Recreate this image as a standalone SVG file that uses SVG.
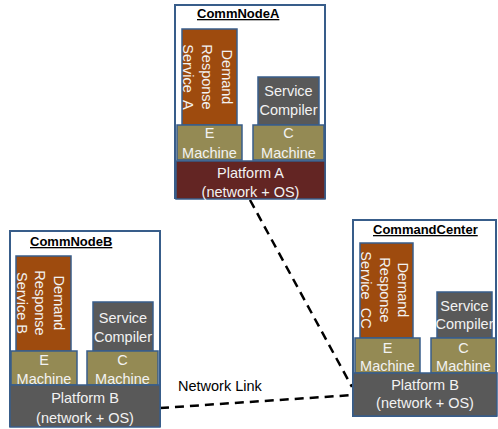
<svg xmlns="http://www.w3.org/2000/svg" width="498" height="429" viewBox="0 0 498 429">
<style>
.outer{fill:#fff;stroke:#385D8A;stroke-width:2}
.box{stroke:#385D8A;stroke-width:1.5}
.drs{fill:#9E4B0E}
.cmp{fill:#595959}
.mac{fill:#948A54}
.pa{fill:#632523}
.pb{fill:#595959}
text{font-family:"Liberation Sans",Arial,sans-serif;font-size:14.5px;fill:#F2F2F2;text-anchor:middle;white-space:pre}
.title{font-weight:bold;font-size:13px;fill:#000;text-decoration:underline;text-anchor:start}
.lbl{fill:#000;text-anchor:start;font-size:14.5px}
.link{stroke:#000;stroke-width:2.5;stroke-dasharray:9 6;fill:none}
</style>
<g id="connectors">
<line class="link" x1="250" y1="200" x2="352" y2="387"/>
<line class="link" x1="160" y1="408" x2="353" y2="395"/>
<text class="lbl" x="178" y="391">Network Link</text>
</g>
<g id="CommNodeA">
<rect class="outer" x="175" y="5" width="150" height="193"/>
<text class="title" x="197" y="18">CommNodeA</text>
<rect class="box drs" x="182" y="29" width="55" height="96"/>
<text transform="translate(227,77) rotate(90)" y="5">Demand</text>
<text transform="translate(207,77) rotate(90)" y="5">Response</text>
<text transform="translate(188,77) rotate(90)" y="5">Service  A</text>
<rect class="box cmp" x="258" y="77" width="61" height="48"/>
<text x="288.5" y="96">Service</text>
<text x="288.5" y="115">Compiler</text>
<rect class="box mac" x="177" y="125" width="65" height="35"/>
<text x="209.5" y="138">E</text>
<text x="209.5" y="158">Machine</text>
<rect class="box mac" x="253" y="125" width="71" height="35"/>
<text x="288.5" y="138">C</text>
<text x="288.5" y="158">Machine</text>
<rect class="box pa" x="176" y="161" width="149" height="38"/>
<text x="250.5" y="178">Platform A</text>
<text x="250.5" y="197">(network + OS)</text>
</g>
<g id="CommNodeB">
<rect class="outer" x="10" y="231" width="150" height="195"/>
<text class="title" x="30" y="246">CommNodeB</text>
<rect class="box drs" x="16" y="256" width="55" height="95"/>
<text transform="translate(59,303) rotate(90)" y="5">Demand</text>
<text transform="translate(40,303) rotate(90)" y="5">Response</text>
<text transform="translate(22,303) rotate(90)" y="5">Service B</text>
<rect class="box cmp" x="93" y="302" width="60" height="49"/>
<text x="123" y="323">Service</text>
<text x="123" y="342">Compiler</text>
<rect class="box mac" x="11" y="351" width="66" height="34"/>
<text x="44" y="365">E</text>
<text x="44" y="384">Machine</text>
<rect class="box mac" x="87" y="351" width="71" height="34"/>
<text x="122.5" y="365">C</text>
<text x="122.5" y="384">Machine</text>
<rect class="box pb" x="10" y="385" width="150" height="42"/>
<text x="85" y="403">Platform B</text>
<text x="85" y="423">(network + OS)</text>
</g>
<g id="CommandCenter">
<rect class="outer" x="353" y="220" width="143" height="196"/>
<text class="title" x="373" y="234">CommandCenter</text>
<rect class="box drs" x="360" y="243" width="53" height="95"/>
<text transform="translate(403,290) rotate(90)" y="5">Demand</text>
<text transform="translate(385,290) rotate(90)" y="5">Response</text>
<text transform="translate(366,290) rotate(90)" y="5">Service  CC</text>
<rect class="box cmp" x="437" y="292" width="55" height="46"/>
<text x="464.5" y="311">Service</text>
<text x="464.5" y="329">Compiler</text>
<rect class="box mac" x="355" y="338" width="65" height="35"/>
<text x="387.5" y="353">E</text>
<text x="387.5" y="371">Machine</text>
<rect class="box mac" x="431" y="338" width="65" height="35"/>
<text x="463.5" y="353">C</text>
<text x="463.5" y="371">Machine</text>
<rect class="box pb" x="353" y="373" width="144" height="43"/>
<text x="425" y="390">Platform B</text>
<text x="425" y="408">(network + OS)</text>
</g>
</svg>
